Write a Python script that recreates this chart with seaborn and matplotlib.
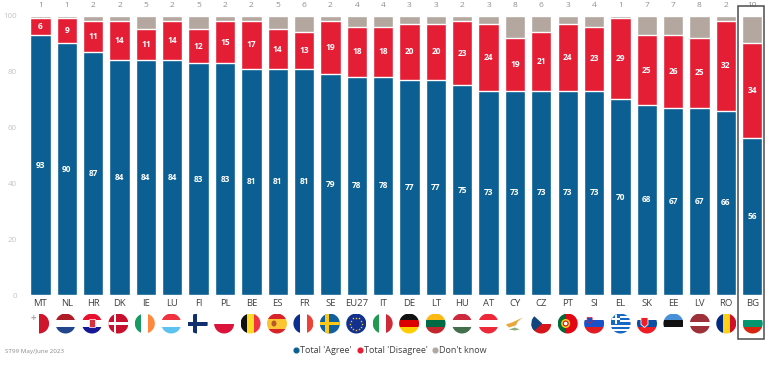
import math
import pandas as pd
import matplotlib
matplotlib.use('Agg')
import matplotlib.pyplot as plt
from matplotlib.lines import Line2D
from matplotlib.patches import Circle, Rectangle, Polygon, Ellipse
import seaborn as sns

countries = ['MT', 'NL', 'HR', 'DK', 'IE', 'LU', 'FI', 'PL', 'BE', 'ES', 'FR', 'SE', 'EU27', 'IT',
             'DE', 'LT', 'HU', 'AT', 'CY', 'CZ', 'PT', 'SI', 'EL', 'SK', 'EE', 'LV', 'RO', 'BG']
agree = [93, 90, 87, 84, 84, 84, 83, 83, 81, 81, 81, 79, 78, 78, 77, 77, 75, 73, 73, 73, 73, 73, 70, 68, 67, 67, 66, 56]
disagree = [6, 9, 11, 14, 11, 14, 12, 15, 17, 14, 13, 19, 18, 18, 20, 20, 23, 24, 19, 21, 24, 23, 29, 25, 26, 25, 32, 34]
dont_know = [1, 1, 2, 2, 5, 2, 5, 2, 2, 5, 6, 2, 4, 4, 3, 3, 2, 3, 8, 6, 3, 4, 1, 7, 7, 8, 2, 10]
y_ticks = [0, 20, 40, 60, 80, 100]
legend_labels = ["Total 'Agree'", "Total 'Disagree'", "Don't know"]
source = 'ST99 May/June 2023'

BLUE = '#0b5f92'
RED = '#e41e35'
GREY = '#b3a79f'
W, H = 780, 376

sns.set_theme(style='white')
plt.rcParams['font.family'] = ['Open Sans', 'DejaVu Sans']

df = pd.DataFrame({'country': countries, 'agree': agree, 'disagree': disagree, 'dont_know': dont_know})
df['mid'] = df['agree'] + df['disagree']
df['total'] = df['mid'] + df['dont_know']

fig = plt.figure(figsize=(W / 100, H / 100), dpi=100)
ax = fig.add_axes([27.3 / W, 1 - 295 / H, (765.4 - 27.3) / W, (295 - 15.5) / H])

# stacked bars: tallest first, the shorter ones paint over them
for col, color in [('total', GREY), ('mid', RED), ('agree', BLUE)]:
    sns.barplot(data=df, x='country', y=col, color=color, saturation=1, width=0.77, ax=ax, order=countries)

ax.set_xlim(-0.5, 27.5)
ax.set_ylim(0, 100)
ax.set_xlabel('')
ax.set_ylabel('')
ax.set_yticks(y_ticks)
ax.tick_params(axis='y', length=0, labelsize=5.8, labelcolor='#c4c4c4', pad=7.5)
ax.tick_params(axis='x', length=0, labelsize=6.8, labelcolor='#404040', pad=3)
sns.despine(ax=ax, left=True, bottom=True)

for i, row in df.iterrows():
    ax.text(i, row['agree'] / 2, row['agree'], color='white', fontsize=6, fontweight='bold', ha='center', va='center')
    ax.text(i, row['agree'] + row['disagree'] / 2, row['disagree'], color='white', fontsize=6, fontweight='bold',
            ha='center', va='center')
    ax.text(i, 102.2, row['dont_know'], color='#8f8f8f', fontsize=6, ha='center', va='bottom', clip_on=False)

# overlay in pixel coords for flags and the BG box
ov = fig.add_axes([0, 0, 1, 1], facecolor='none')
ov.set_xlim(0, W)
ov.set_ylim(H, 0)
ov.axis('off')

R = 10
FLAG_Y = 323.5


def stripes(cx, clip, colors, vertical=False, sizes=None):
    sizes = sizes or [1] * len(colors)
    pos = -R
    for c, s in zip(colors, sizes):
        d = 2 * R * s / sum(sizes)
        if vertical:
            r = Rectangle((cx + pos, FLAG_Y - R), d, 2 * R, fc=c, lw=0)
        else:
            r = Rectangle((cx - R, FLAG_Y + pos), 2 * R, d, fc=c, lw=0)
        ov.add_patch(r)
        r.set_clip_path(clip)
        pos += d


def add(clip, patch):
    ov.add_patch(patch)
    patch.set_clip_path(clip)


def cross(cx, clip, bg, fg, t=3.2):
    stripes(cx, clip, [bg])
    add(clip, Rectangle((cx - R, FLAG_Y - t / 2), 2 * R, t, fc=fg, lw=0))
    add(clip, Rectangle((cx - 4.5, FLAG_Y - R), t, 2 * R, fc=fg, lw=0))


def draw_flag(code, cx):
    clip = Circle((cx, FLAG_Y), R, transform=ov.transData)
    if code == 'MT':
        stripes(cx, clip, ['white', '#cf142b'], vertical=True)
        ov.text(cx - 6, FLAG_Y - 4.5, '+', color='#a9a9a9', fontsize=7, fontweight='bold', ha='center', va='center')
    elif code == 'NL':
        stripes(cx, clip, ['#ae1c28', 'white', '#21468b'])
    elif code == 'HR':
        stripes(cx, clip, ['#e8112d', 'white', '#171796'])
        add(clip, Rectangle((cx - 3, FLAG_Y - 5), 6, 8, fc='#d9303f', ec='white', lw=0.5))
    elif code == 'DK':
        cross(cx, clip, '#c8102e', 'white', 2.4)
    elif code == 'IE':
        stripes(cx, clip, ['#169b62', 'white', '#ff883e'], vertical=True)
    elif code == 'LU':
        stripes(cx, clip, ['#ef3340', 'white', '#5cc2f0'])
    elif code == 'FI':
        cross(cx, clip, 'white', '#102f6e', 4)
    elif code == 'PL':
        stripes(cx, clip, ['white', '#dc143c'])
    elif code == 'BE':
        stripes(cx, clip, ['#111111', '#fdda24', '#ef3340'], vertical=True)
    elif code == 'ES':
        stripes(cx, clip, ['#d8232a', '#fbc531', '#d8232a'], sizes=[1, 2, 1])
        add(clip, Ellipse((cx - 3, FLAG_Y), 5, 6, fc='#b5582a', lw=0))
    elif code == 'FR':
        stripes(cx, clip, ['#0a2f8f', 'white', '#ef4135'], vertical=True)
    elif code == 'SE':
        cross(cx, clip, '#10609f', '#fcc917', 3.2)
    elif code == 'EU27':
        stripes(cx, clip, ['#12308f'])
        for k in range(12):
            a = math.radians(30 * k)
            ov.plot(cx + 6 * math.cos(a), FLAG_Y + 6 * math.sin(a), marker='*', ms=1.8, color='#ffd617', mew=0)
    elif code == 'IT':
        stripes(cx, clip, ['#1f9a50', 'white', '#cf2b37'], vertical=True)
    elif code == 'DE':
        stripes(cx, clip, ['#111111', '#dd0000', '#ffce00'])
    elif code == 'LT':
        stripes(cx, clip, ['#fdb913', '#006a44', '#c1272d'])
    elif code == 'HU':
        stripes(cx, clip, ['#cd2a3e', 'white', '#436f4d'])
    elif code == 'AT':
        stripes(cx, clip, ['#ed2939', 'white', '#ed2939'])
    elif code == 'CY':
        add(clip, Polygon([(cx - 9, FLAG_Y + 1), (cx - 3, FLAG_Y - 1), (cx + 8, FLAG_Y - 6), (cx + 3, FLAG_Y - 2),
                           (cx + 1, FLAG_Y + 2), (cx - 6, FLAG_Y + 4)], fc='#e8a93c', lw=0))
        add(clip, Polygon([(cx - 6, FLAG_Y + 6), (cx, FLAG_Y + 4), (cx + 5, FLAG_Y + 6), (cx, FLAG_Y + 7)], fc='#8fae80', lw=0))
    elif code == 'CZ':
        stripes(cx, clip, ['white', '#d7141a'])
        add(clip, Polygon([(cx - R, FLAG_Y - R), (cx + 1, FLAG_Y), (cx - R, FLAG_Y + R)], fc='#11457e', lw=0))
    elif code == 'PT':
        stripes(cx, clip, ['#046a38', '#e30613'], vertical=True, sizes=[2, 3])
        add(clip, Circle((cx - 2, FLAG_Y), 4.5, fc='#f7d116', lw=0))
        add(clip, Circle((cx - 2, FLAG_Y), 2.4, fc='white', ec='#c8102e', lw=0.8))
    elif code == 'SI':
        stripes(cx, clip, ['white', '#1a50c8', '#e21b23'])
        add(clip, Polygon([(cx - 7, FLAG_Y - 6), (cx - 2, FLAG_Y - 6), (cx - 2, FLAG_Y - 2), (cx - 4.5, FLAG_Y), (cx - 7, FLAG_Y - 2)],
                          fc='#1a50c8', ec='#e21b23', lw=0.5))
    elif code == 'EL':
        stripes(cx, clip, ['#1469c4', 'white'] * 4 + ['#1469c4'])
        add(clip, Rectangle((cx - R, FLAG_Y - R), 9.5, 10, fc='#1469c4', lw=0))
        add(clip, Rectangle((cx - R, FLAG_Y - 6), 9.5, 2, fc='white', lw=0))
        add(clip, Rectangle((cx - 6, FLAG_Y - R), 2, 10, fc='white', lw=0))
    elif code == 'SK':
        stripes(cx, clip, ['white', '#0b4ea2', '#ee1c25'])
        add(clip, Polygon([(cx - 6, FLAG_Y - 6), (cx + 1, FLAG_Y - 6), (cx + 1, FLAG_Y + 1), (cx - 2.5, FLAG_Y + 4), (cx - 6, FLAG_Y + 1)],
                          fc='#ee1c25', ec='white', lw=0.6))
    elif code == 'EE':
        stripes(cx, clip, ['#4891d9', '#111111', 'white'])
    elif code == 'LV':
        stripes(cx, clip, ['#9e3039', 'white', '#9e3039'], sizes=[2, 1, 2])
    elif code == 'RO':
        stripes(cx, clip, ['#002b7f', '#fcd116', '#ce1126'], vertical=True)
    elif code == 'BG':
        stripes(cx, clip, ['white', '#00966e', '#d62612'])


for i, code in enumerate(countries):
    draw_flag(code, 39.1 + 26.43 * i)

# box round BG
ov.add_patch(Rectangle((737.7, 5.5), 26.6, 333.5, fc='none', ec='#4d4d4d', lw=1.1))

ov.text(5, 352, source, color='#8a8a8a', fontsize=4.5, va='center', ha='left')

handles = [Line2D([], [], ls='', marker='o', ms=3.4, color=c) for c in [BLUE, RED, GREY]]
ov.legend(handles, legend_labels, ncol=3, frameon=False, fontsize=6.5, labelcolor='#404040',
          loc='center', bbox_to_anchor=(389.5 / W, 1 - 350.7 / H), bbox_transform=fig.transFigure,
          handletextpad=0.0, columnspacing=0.4, handlelength=0.9, borderpad=0, borderaxespad=0)

fig.savefig('out.png', dpi=100)
